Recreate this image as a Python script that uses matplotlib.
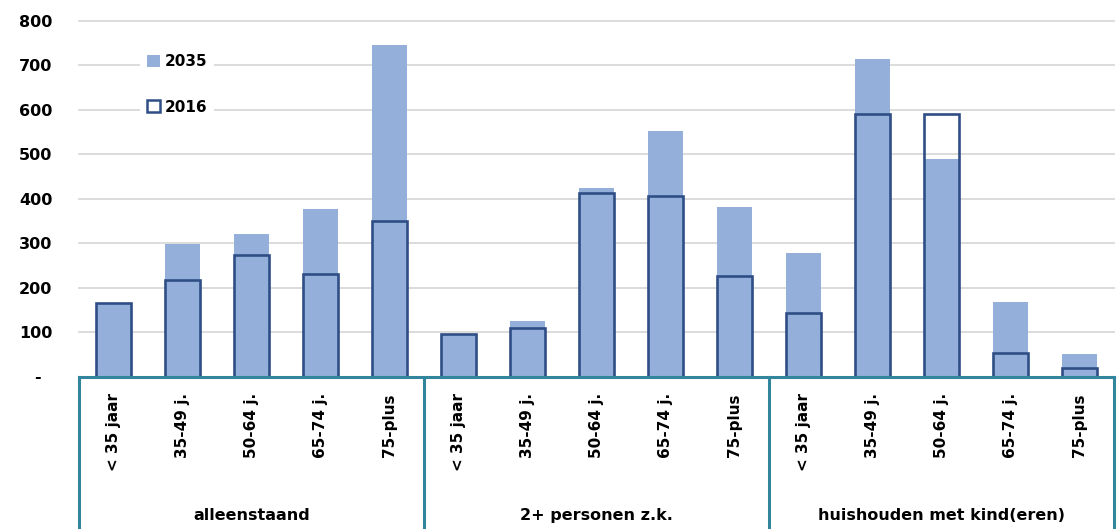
import numpy as np
import matplotlib
matplotlib.use("Agg")
import matplotlib.pyplot as plt
from matplotlib.patches import Patch
import matplotlib.transforms as mtransforms

# huishoudens per type en leeftijd, 2016 en 2035
age_labels = ["< 35 jaar", "35-49 j.", "50-64 j.", "65-74 j.", "75-plus"]
groups = ["alleenstaand", "2+ personen z.k.", "huishouden met kind(eren)"]
tick_labels = age_labels * len(groups)
v2035 = [164, 299, 320, 376, 746, 94, 125, 424, 552, 381, 277, 713, 490, 168, 50]
v2016 = [166, 217, 273, 230, 350, 95, 110, 413, 406, 227, 142, 590, 590, 52, 18]
yticks = [0, 100, 200, 300, 400, 500, 600, 700, 800]
ytick_labels = ["-  ", "100", "200", "300", "400", "500", "600", "700", "800"]

fill_col = "#93AFDA"
edge_col = "#2F4E85"
table_col = "#31859C"
grid_col = "#D9D9D9"

plt.rcParams["font.family"] = "DejaVu Sans"
plt.rcParams["font.weight"] = "bold"

fig = plt.figure(figsize=(11.19, 5.29), dpi=100)
ax = fig.add_axes([79 / 1119, 1 - 376.5 / 529, 1035 / 1119, 355.8 / 529])

x = np.arange(len(tick_labels))
w = 0.52
ax.bar(x, v2035, width=w, color=fill_col, zorder=2)
ax.bar(x, v2016, width=w, facecolor="none", edgecolor=edge_col,
       linewidth=1.9, zorder=3)

ax.set_xlim(-0.5, len(x) - 0.5)
ax.set_ylim(0, 800)
ax.set_yticks(yticks)
ax.set_yticklabels(ytick_labels, fontsize=11.5, fontweight="bold")
ax.tick_params(axis="y", length=0, pad=19)
ax.set_xticks(x)
ax.set_xticklabels(tick_labels, rotation=90, fontsize=11, fontweight="bold")
ax.tick_params(axis="x", length=0, pad=12)
ax.yaxis.grid(True, color=grid_col, linewidth=1.3, zorder=0)
for gl in ax.get_ygridlines():
    gl.set_clip_on(False)
ax.set_axisbelow(True)
for s in ["top", "right", "left"]:
    ax.spines[s].set_visible(False)
ax.spines["bottom"].set_color(table_col)
ax.spines["bottom"].set_linewidth(2.2)
ax.spines["bottom"].set_zorder(4)

# kader met groepen onder de as
trans = mtransforms.blended_transform_factory(ax.transData, ax.transAxes)
n = len(age_labels)
for b in np.arange(len(groups) + 1) * n - 0.5:
    ax.plot([b, b], [0, -0.6], transform=trans, color=table_col,
            linewidth=2.2, clip_on=False, zorder=4)
for i, g in enumerate(groups):
    ax.text(i * n + (n - 1) / 2, -0.39, g, transform=trans, ha="center",
            va="center", fontsize=11.5, fontweight="bold")

handles = [Patch(facecolor=fill_col, edgecolor="none", label="2035"),
           Patch(facecolor="white", edgecolor=edge_col, linewidth=1.8, label="2016")]
leg = ax.legend(handles=handles, loc="upper left", bbox_to_anchor=(0.052, 0.945),
                frameon=True, handlelength=0.9, handleheight=0.8,
                handletextpad=0.3, labelspacing=2.0, borderpad=0.4,
                prop={"weight": "bold", "size": 11})
leg.get_frame().set_edgecolor("none")
leg.get_frame().set_facecolor("white")
leg.get_frame().set_alpha(1)

fig.savefig("out.png", dpi=100)
